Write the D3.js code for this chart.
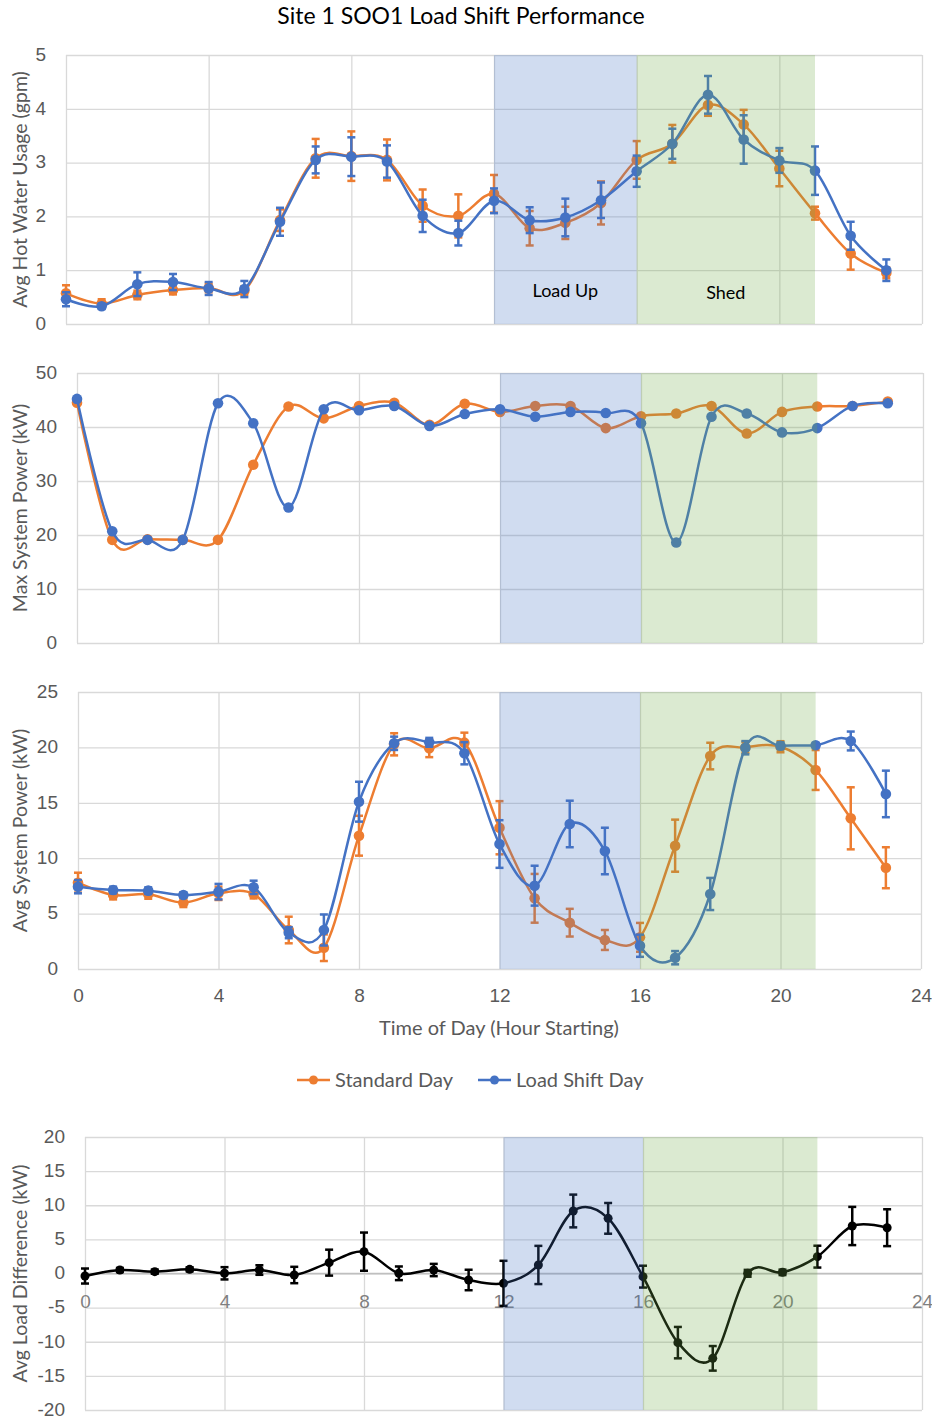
<!DOCTYPE html>
<html>
<head>
<meta charset="utf-8">
<style>
body { margin: 0; background: #fff; }
svg { font-family: Lato, "Open Sans", sans-serif; }
.grid line { stroke: #d9d9d9; stroke-width: 1.3; }
.grid path { display: none; }
.lab path, .lab line { display: none; }
.lab text { fill: #595959; font-size: 19px; }
</style>
</head>
<body>
<script src="https://cdn.jsdelivr.net/npm/d3@7"></script>
<script>

var hours = [0, 1, 2, 3, 4, 5, 6, 7, 8, 9, 10, 11, 12, 13, 14, 15, 16, 17, 18, 19, 20, 21, 22, 23];
var xTicks = [0, 4, 8, 12, 16, 20, 24];
var loadUp = [12, 16];
var shed = [16, 21];

// avg hot water usage (gpm)
var hwStd      = [0.57, 0.38, 0.54, 0.63, 0.67, 0.62, 1.93, 3.08, 3.12, 3.05, 2.20, 2.01, 2.42, 1.78, 1.88, 2.25, 3.05, 3.35, 4.07, 3.71, 2.89, 2.06, 1.31, 0.95];
var hwStdErr   = [0.15, 0.08, 0.08, 0.08, 0.08, 0.08, 0.20, 0.36, 0.46, 0.38, 0.30, 0.40, 0.35, 0.32, 0.30, 0.40, 0.35, 0.35, 0.20, 0.27, 0.33, 0.12, 0.30, 0.10];
var hwShift    = [0.46, 0.33, 0.74, 0.78, 0.66, 0.65, 1.90, 3.05, 3.11, 3.02, 2.01, 1.69, 2.29, 1.93, 1.98, 2.30, 2.84, 3.35, 4.26, 3.43, 3.04, 2.85, 1.64, 1.00];
var hwShiftErr = [0.13, 0.05, 0.22, 0.15, 0.12, 0.15, 0.26, 0.25, 0.36, 0.30, 0.30, 0.23, 0.23, 0.24, 0.35, 0.33, 0.29, 0.28, 0.35, 0.45, 0.23, 0.45, 0.26, 0.20];

// max system power (kW)
var maxStd   = [44.5, 19.1, 19.2, 19.1, 19.1, 33.0, 43.8, 41.6, 43.9, 44.5, 40.4, 44.3, 42.8, 43.9, 43.9, 39.8, 42.0, 42.5, 43.9, 38.8, 42.8, 43.8, 43.9, 44.7];
var maxShift = [45.2, 20.7, 19.1, 19.1, 44.4, 40.7, 25.1, 43.3, 43.1, 43.9, 40.2, 42.4, 43.3, 41.9, 42.8, 42.6, 40.7, 18.6, 41.9, 42.5, 39.0, 39.8, 43.9, 44.4];

// avg system power (kW)
var avgStd      = [7.79, 6.68, 6.74, 5.99, 6.83, 6.77, 3.52, 1.92, 12.03, 20.28, 19.92, 20.43, 12.75, 6.38, 4.18, 2.62, 2.86, 11.13, 19.22, 20.0, 20.06, 17.96, 13.6, 9.14];
var avgStdErr   = [0.9, 0.4, 0.4, 0.4, 0.6, 0.4, 1.2, 1.2, 1.8, 1.0, 0.8, 0.9, 2.4, 2.2, 1.25, 0.9, 1.3, 2.35, 1.2, 0.5, 0.5, 1.8, 2.8, 1.85];
var avgShift    = [7.43, 7.13, 7.07, 6.68, 6.98, 7.37, 3.28, 3.52, 15.1, 20.37, 20.46, 19.47, 11.28, 7.52, 13.09, 10.65, 2.1, 1.02, 6.77, 19.97, 20.15, 20.2, 20.58, 15.8];
var avgShiftErr = [0.6, 0.3, 0.3, 0.25, 0.7, 0.6, 0.5, 1.4, 1.8, 0.6, 0.4, 1.0, 2.15, 1.8, 2.1, 2.1, 1.0, 0.6, 1.45, 0.6, 0.3, 0.2, 0.85, 2.1];

// avg load difference (kW)
var diff    = [-0.37, 0.51, 0.27, 0.61, 0.03, 0.51, -0.22, 1.59, 3.2, 0.03, 0.51, -0.95, -1.44, 1.25, 9.16, 8.08, -0.46, -10.13, -12.43, 0.03, 0.17, 2.47, 6.96, 6.71];
var diffErr = [1.1, 0.3, 0.3, 0.3, 0.9, 0.7, 1.2, 1.9, 2.8, 1.0, 0.9, 1.5, 3.3, 2.8, 2.4, 2.25, 1.6, 2.3, 1.8, 0.5, 0.4, 1.6, 2.8, 2.7];

var orange = "#ED7D31", blue = "#4472C4";
var plain = function(d) { return String(d); };

var svg = d3.select("body").append("svg")
    .attr("width", 932)
    .attr("height", 1418);

svg.append("text")
    .attr("x", 461).attr("y", 24)
    .attr("text-anchor", "middle")
    .style("font-size", "23px")
    .style("fill", "#000")
    .text("Site 1 SOO1 Load Shift Performance");

var panels = [
  { left: 66, right: 922, top: 55, bottom: 324, yDomain: [0, 5], yTicks: [0, 1, 2, 3, 4, 5],
    title: "Avg Hot Water Usage (gpm)",
    series: [{ v: hwStd, e: hwStdErr, c: orange }, { v: hwShift, e: hwShiftErr, c: blue }] },
  { left: 77, right: 923, top: 373, bottom: 643, yDomain: [0, 50], yTicks: [0, 10, 20, 30, 40, 50],
    title: "Max System Power (kW)",
    series: [{ v: maxStd, c: orange }, { v: maxShift, c: blue }] },
  { left: 78, right: 921, top: 692, bottom: 969, yDomain: [0, 25], yTicks: [0, 5, 10, 15, 20, 25],
    title: "Avg System Power (kW)", xLabels: true,
    series: [{ v: avgStd, e: avgStdErr, c: orange }, { v: avgShift, e: avgShiftErr, c: blue }] },
  { left: 85, right: 922, top: 1137, bottom: 1410, yDomain: [-20, 20], yTicks: [-20, -15, -10, -5, 0, 5, 10, 15, 20],
    title: "Avg Load Difference (kW)", zeroLabels: true, r: 4.5,
    series: [{ v: diff, e: diffErr, c: "#000" }] }
];

panels.forEach(drawPanel);

function drawPanel(p) {
  var x = d3.scaleLinear().domain([0, 24]).range([p.left, p.right]);
  var y = d3.scaleLinear().domain(p.yDomain).range([p.bottom, p.top]);
  var g = svg.append("g");

  g.append("g").attr("class", "grid")
      .attr("transform", "translate(" + p.left + ",0)")
      .call(d3.axisLeft(y).tickValues(p.yTicks).tickSize(-(p.right - p.left)).tickFormat(""));

  g.append("g").attr("class", "grid")
      .attr("transform", "translate(0," + p.bottom + ")")
      .call(d3.axisBottom(x).tickValues(xTicks).tickSize(p.bottom - p.top).tickSizeOuter(0).tickFormat(""))
      .selectAll("line").attr("y1", 0).attr("y2", -(p.bottom - p.top));

  g.append("g").attr("class", "lab")
      .attr("transform", "translate(" + p.left + ",0)")
      .call(d3.axisLeft(y).tickValues(p.yTicks).tickSize(0).tickPadding(20).tickFormat(plain))
      .selectAll("text").attr("dy", "0.28em");

  g.append("text")
      .attr("transform", "translate(20," + (p.top + p.bottom) / 2 + ") rotate(-90)")
      .attr("text-anchor", "middle")
      .attr("dy", "0.35em")
      .style("font-size", "19.5px")
      .style("fill", "#595959")
      .text(p.title);

  if (p.xLabels) {
    var xa = g.append("g").attr("class", "lab")
        .attr("transform", "translate(0," + p.bottom + ")")
        .call(d3.axisBottom(x).tickValues(xTicks).tickSize(5).tickPadding(15).tickFormat(plain));
    xa.selectAll("line").style("display", null).attr("stroke", "#bfbfbf");
  }
  if (p.zeroLabels) {
    g.append("line")
        .attr("x1", p.left).attr("x2", p.right)
        .attr("y1", y(0)).attr("y2", y(0))
        .attr("stroke", "#bfbfbf").attr("stroke-width", 1.5);
    g.append("g").attr("class", "lab")
        .attr("transform", "translate(0," + y(0) + ")")
        .call(d3.axisBottom(x).tickValues(xTicks).tickSize(0).tickPadding(21).tickFormat(plain))
        .selectAll("text").style("fill", "#7f7f7f");
  }

  var line = d3.line()
      .x(function(d, i) { return x(hours[i]); })
      .y(function(d) { return y(d); })
      .curve(d3.curveCatmullRom.alpha(0));

  p.series.forEach(function(s) {
    g.append("path")
        .attr("d", line(s.v))
        .attr("fill", "none")
        .attr("stroke", s.c)
        .attr("stroke-width", 2.5);

    if (s.e) {
      var eb = g.append("g").attr("stroke", s.c).attr("stroke-width", 2.5);
      s.v.forEach(function(v, i) {
        var cx = x(hours[i]), t = y(v + s.e[i]), b = y(v - s.e[i]);
        eb.append("line").attr("x1", cx).attr("x2", cx).attr("y1", t).attr("y2", b);
        eb.append("line").attr("x1", cx - 4).attr("x2", cx + 4).attr("y1", t).attr("y2", t);
        eb.append("line").attr("x1", cx - 4).attr("x2", cx + 4).attr("y1", b).attr("y2", b);
      });
    }

    g.selectAll(null)
        .data(s.v)
        .enter().append("circle")
        .attr("cx", function(d, i) { return x(hours[i]); })
        .attr("cy", function(d) { return y(d); })
        .attr("r", p.r || 5.3)
        .attr("fill", s.c);
  });

  // shaded periods sit over the lines, like in the original
  g.append("rect")
      .attr("x", x(loadUp[0])).attr("width", x(loadUp[1]) - x(loadUp[0]))
      .attr("y", p.top).attr("height", p.bottom - p.top)
      .attr("fill", blue).attr("fill-opacity", 0.25);
  g.append("rect")
      .attr("x", x(shed[0])).attr("width", x(shed[1]) - x(shed[0]))
      .attr("y", p.top).attr("height", p.bottom - p.top)
      .attr("fill", "#70AD47").attr("fill-opacity", 0.25);
}

// period labels on the top panel
var x1 = d3.scaleLinear().domain([0, 24]).range([panels[0].left, panels[0].right]);
var y1 = d3.scaleLinear().domain(panels[0].yDomain).range([panels[0].bottom, panels[0].top]);
svg.append("text").attr("x", x1(14)).attr("y", y1(0.5))
    .attr("text-anchor", "middle").style("font-size", "18px").text("Load Up");
svg.append("text").attr("x", x1(18.5)).attr("y", y1(0.46))
    .attr("text-anchor", "middle").style("font-size", "18px").text("Shed");

// x axis title and legend
svg.append("text").attr("x", 499).attr("y", 1035)
    .attr("text-anchor", "middle").style("font-size", "20px").style("fill", "#595959")
    .text("Time of Day (Hour Starting)");

var legend = svg.append("g").attr("transform", "translate(297,1080)");
var items = [{ name: "Standard Day", c: orange, dx: 0 }, { name: "Load Shift Day", c: blue, dx: 181 }];
items.forEach(function(it) {
  var lg = legend.append("g").attr("transform", "translate(" + it.dx + ",0)");
  lg.append("line").attr("x1", 0).attr("x2", 33).attr("stroke", it.c).attr("stroke-width", 2.5);
  lg.append("circle").attr("cx", 16.5).attr("r", 4.5).attr("fill", it.c);
  lg.append("text").attr("x", 38).attr("dy", "0.35em")
      .style("font-size", "20px").style("fill", "#595959").text(it.name);
});

</script>
</body>
</html>
